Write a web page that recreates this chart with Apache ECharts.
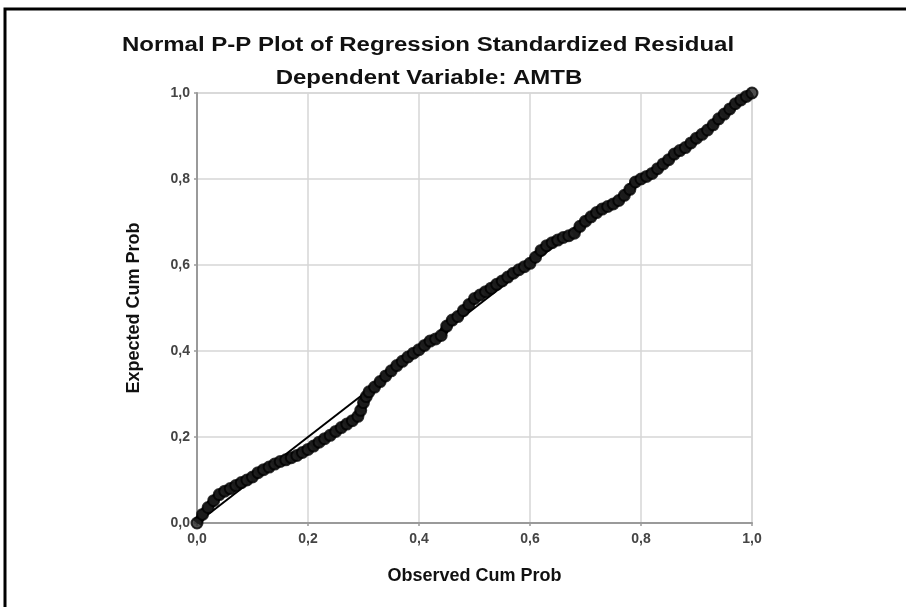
<!DOCTYPE html>
<html>
<head>
<meta charset="utf-8">
<script src="https://cdn.jsdelivr.net/npm/echarts@6/dist/echarts.min.js"></script>
<style>
  html, body { margin: 0; padding: 0; background: #fff; }
  #chart { width: 906px; height: 607px; }
</style>
</head>
<body>
<div id="chart"></div>
<script>
// Observed vs expected cumulative probabilities of the standardized residuals
const observed = [
  0.00, 0.01, 0.02, 0.03, 0.04, 0.05, 0.06, 0.07, 0.08, 0.09,
  0.10, 0.11, 0.12, 0.13, 0.14, 0.15, 0.16, 0.17, 0.18, 0.19,
  0.20, 0.21, 0.22, 0.23, 0.24, 0.25, 0.26, 0.27, 0.28, 0.29,
  0.295, 0.30, 0.305, 0.31, 0.32, 0.33, 0.34, 0.35, 0.36, 0.37,
  0.38, 0.39, 0.40, 0.41, 0.42, 0.43, 0.44, 0.45, 0.46, 0.47,
  0.48, 0.49, 0.50, 0.51, 0.52, 0.53, 0.54, 0.55, 0.56, 0.57,
  0.58, 0.59, 0.60, 0.61, 0.62, 0.63, 0.64, 0.65, 0.66, 0.67,
  0.68, 0.69, 0.70, 0.71, 0.72, 0.73, 0.74, 0.75, 0.76, 0.77,
  0.78, 0.79, 0.80, 0.81, 0.82, 0.83, 0.84, 0.85, 0.86, 0.87,
  0.88, 0.89, 0.90, 0.91, 0.92, 0.93, 0.94, 0.95, 0.96, 0.97,
  0.98, 0.99, 1.00
];
const expected = [
  0.000, 0.020, 0.036, 0.052, 0.066, 0.074, 0.080, 0.087, 0.094, 0.100,
  0.107, 0.117, 0.124, 0.130, 0.137, 0.143, 0.147, 0.152, 0.157, 0.164,
  0.171, 0.179, 0.188, 0.196, 0.204, 0.213, 0.222, 0.230, 0.238, 0.248,
  0.262, 0.280, 0.294, 0.305, 0.316, 0.329, 0.342, 0.354, 0.366, 0.376,
  0.386, 0.395, 0.403, 0.413, 0.423, 0.428, 0.436, 0.458, 0.472, 0.480,
  0.494, 0.508, 0.522, 0.530, 0.538, 0.546, 0.555, 0.563, 0.572, 0.581,
  0.589, 0.596, 0.604, 0.618, 0.634, 0.645, 0.652, 0.658, 0.664, 0.668,
  0.674, 0.690, 0.702, 0.712, 0.722, 0.730, 0.736, 0.742, 0.750, 0.762,
  0.776, 0.793, 0.800, 0.806, 0.813, 0.824, 0.835, 0.845, 0.858, 0.866,
  0.873, 0.884, 0.895, 0.904, 0.914, 0.926, 0.940, 0.951, 0.963, 0.975,
  0.984, 0.992, 1.000
];
// Reference diagonal
const diagonal = [[0, 0], [1, 1]];

const titleText = 'Normal P-P Plot of Regression Standardized Residual';
const subtitleText = 'Dependent Variable: AMTB';
const xName = 'Observed Cum Prob';
const yName = 'Expected Cum Prob';

const points = observed.map((o, i) => [o, expected[i]]);
const fmt = v => v.toFixed(1).replace('.', ',');

const chart = echarts.init(document.getElementById('chart'), null, { renderer: 'canvas' });

const labelStyle = { fontFamily: 'Liberation Sans', fontWeight: 'bold', fontSize: 14, color: '#444', formatter: v => fmt(v) };

const axisCommon = {
  type: 'value',
  min: 0,
  max: 1,
  interval: 0.2,
  nameLocation: 'middle',
  nameTextStyle: { fontFamily: 'Liberation Sans', fontWeight: 'bold', fontSize: 18, color: '#111' },
  axisLine: { show: true, lineStyle: { color: '#9a9a9a', width: 2 } },
  axisTick: { show: true, length: 3, lineStyle: { color: '#9a9a9a', width: 1.5 } },
  splitLine: { show: true, lineStyle: { color: '#d6d6d6', width: 1.5 } }
};

chart.setOption({
  animation: false,
  backgroundColor: '#fff',
  grid: { left: 197, right: 154, top: 93, bottom: 84, show: true, borderColor: '#c8c8c8', borderWidth: 1 },
  xAxis: Object.assign({}, axisCommon, { name: xName, nameGap: 44, axisLabel: Object.assign({}, labelStyle, { margin: 9 }) }),
  yAxis: Object.assign({}, axisCommon, { name: yName, nameGap: 54, axisLabel: Object.assign({}, labelStyle, { margin: 7 }) }),
  graphic: [
    {
      type: 'rect', silent: true, z: 100,
      shape: { x: 5, y: 9, width: 1000, height: 700 },
      style: { fill: 'none', stroke: '#000', lineWidth: 3 }
    },
    {
      type: 'text', x: 428, y: 45, scaleX: 1.2,
      style: { text: titleText, fontFamily: 'Liberation Sans', fontWeight: 'bold', fontSize: 20, fill: '#111', align: 'center', verticalAlign: 'middle' }
    },
    {
      type: 'text', x: 429, y: 78, scaleX: 1.2,
      style: { text: subtitleText, fontFamily: 'Liberation Sans', fontWeight: 'bold', fontSize: 20, fill: '#111', align: 'center', verticalAlign: 'middle' }
    }
  ],
  series: [
    {
      type: 'line',
      data: diagonal,
      symbol: 'none',
      lineStyle: { color: '#000', width: 2 },
      z: 2
    },
    {
      // thick trace joining the residual points
      type: 'line',
      data: points,
      symbol: 'none',
      lineStyle: { color: '#000', width: 9 },
      z: 3
    },
    {
      type: 'scatter',
      data: points,
      symbol: 'circle',
      symbolSize: 11,
      itemStyle: { color: '#222', borderColor: '#000', borderWidth: 2 },
      z: 4
    }
  ]
});
</script>
</body>
</html>
